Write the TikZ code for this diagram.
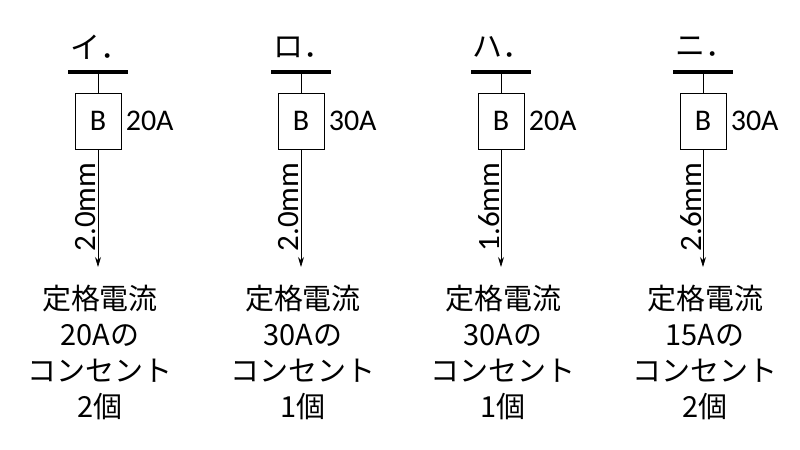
\documentclass[tikz,border=0pt]{standalone}
\usepackage{fontspec}
\setmainfont{Carlito}
\newfontfamily\cjk{Noto Sans CJK JP}
\usetikzlibrary{arrows.meta, positioning}
\tikzset{
  lbl/.style={font=\fontsize{15}{17}\selectfont\cjk, inner sep=1pt},
  txt/.style={font=\fontsize{14.5}{17}\selectfont\cjk, align=center, inner sep=0pt},
  brk/.style={draw, minimum width=23pt, minimum height=28pt, font=\fontsize{15}{17}\selectfont, inner sep=0pt},
}
\begin{document}
\begin{tikzpicture}[x=0.5pt, y=-0.5pt]
  \useasboundingbox (0,0) rectangle (800,450);
  \foreach \x/\t/\a/\w/\n/\k in {100/イ．/20A/2.0mm/20A/2, 303/ロ．/30A/2.0mm/30A/1, 503/ハ．/20A/1.6mm/30A/1, 705/ニ．/30A/2.6mm/15A/2} {
    \node[lbl] (ttl\x) at (\x,47) {\t};
    \coordinate (bl\x) at (\x-32,72);
    \coordinate (br\x) at (\x+28,72);
    \draw[line width=2pt] (bl\x) -- (br\x);
    \node[brk] (brk\x) at (\x-2,121) {B};
    \node[lbl, font=\fontsize{15}{17}\selectfont, right=1pt of brk\x] {\a};
    \draw (\x-2,72) -- (brk\x.north);
    \coordinate (end\x) at (\x-2,267);
    \draw[-{Stealth[length=5pt, width=3pt]}] (brk\x.south) -- (end\x);
    \node[lbl, font=\fontsize{15.5}{17}\selectfont, rotate=90] at (\x-14,207) {\w};
    \node[txt] (lst\x) at (\x,352) {定格電流\\[1pt]\n の\\[1pt]コンセント\\[1pt]\k 個};
  }
\end{tikzpicture}
\end{document}
